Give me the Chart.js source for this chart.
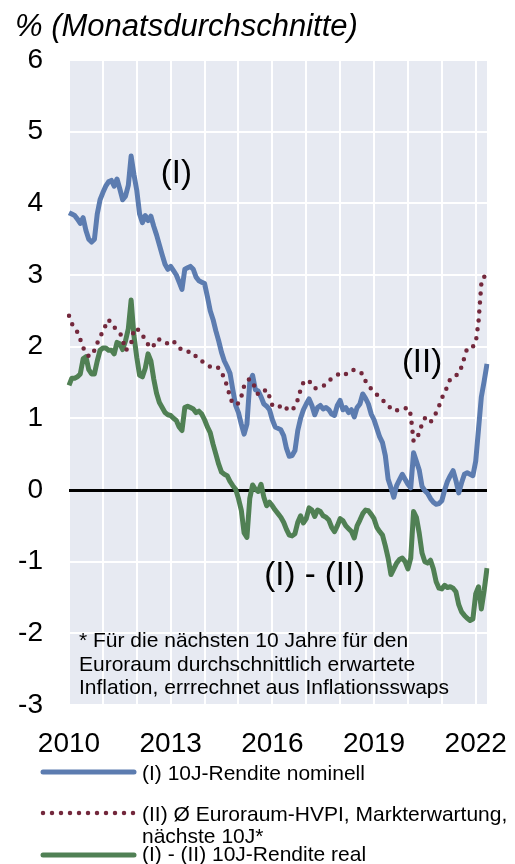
<!DOCTYPE html>
<html>
<head>
<meta charset="utf-8">
<script src="https://cdn.jsdelivr.net/npm/chart.js@4.4.0/dist/chart.umd.min.js"></script>
<style>
  body { margin: 0; background: #fff; }
  #wrap { position: relative; width: 515px; height: 864px; overflow: hidden; font-family: "Liberation Sans", Arial, sans-serif; }
  #chart { position: absolute; left: 0; top: 0; }
  .txt { position: absolute; white-space: nowrap; color: #000; }
  #title { left: 15px; top: 10px; font-size: 31px; line-height: 31px; font-style: italic; }
  #note { left: 79px; top: 628px; font-size: 21px; line-height: 23.5px; }
</style>
</head>
<body>
<div id="wrap">
  <canvas id="chart" width="515" height="864"></canvas>
  <div class="txt" id="title">% (Monatsdurchschnitte)</div>
  <div class="txt" id="note">* Für die nächsten 10 Jahre für den<br>Euroraum durchschnittlich erwartete<br>Inflation, errrechnet aus Inflationsswaps</div>
</div>
<script>
// monthly values, Jan 2010 .. May 2022
var firstYear = 2010;
var yearTicks = ['2010', '2013', '2016', '2019', '2022'];

var nominal = [
  3.87, 3.85, 3.83, 3.78, 3.72, 3.80, 3.62, 3.50, 3.46, 3.50, 3.85, 4.05,
  4.15, 4.24, 4.30, 4.32, 4.24, 4.34, 4.20, 4.05, 4.10, 4.25, 4.66, 4.40,
  4.18, 3.85, 3.73, 3.83, 3.76, 3.82, 3.68, 3.56, 3.42, 3.28, 3.15, 3.08,
  3.12, 3.06, 3.00, 2.90, 2.80, 3.08, 3.10, 3.12, 3.08, 2.97, 2.92, 2.90,
  2.88, 2.70, 2.50, 2.38, 2.22, 2.08, 1.92, 1.80, 1.72, 1.63, 1.40, 1.18,
  1.08, 0.92, 0.78, 0.92, 1.50, 1.60, 1.40, 1.38, 1.30, 1.20, 1.17, 1.12,
  0.98, 0.88, 0.86, 0.84, 0.76, 0.58, 0.47, 0.48, 0.55, 0.83, 1.00, 1.12,
  1.20, 1.27, 1.18, 1.05, 1.15, 1.18, 1.13, 1.15, 1.12, 1.06, 1.04, 1.18,
  1.25, 1.12, 1.15, 1.08, 1.12, 1.02, 1.15, 1.20, 1.34, 1.28, 1.20, 1.06,
  0.98, 0.86, 0.74, 0.66, 0.48, 0.15, 0.03, -0.10, 0.06, 0.14, 0.22, 0.15,
  0.08, 0.03, 0.52, 0.40, 0.28, 0.05, -0.01, -0.05, -0.12, -0.17, -0.20, -0.19,
  -0.15, 0.00, 0.12, 0.20, 0.27, 0.13, -0.04, 0.10, 0.22, 0.24, 0.22, 0.20,
  0.40, 0.85, 1.30, 1.52, 1.76
];

var expected = [
  2.43, 2.32, 2.27, 2.20, 2.10, 1.99, 1.90, 1.87, 1.87, 1.95, 2.05, 2.13,
  2.22, 2.30, 2.38, 2.32, 2.27, 2.24, 2.20, 2.10, 1.95, 1.98, 2.04, 2.25,
  2.25, 2.22, 2.15, 2.12, 2.03, 1.98, 2.02, 2.10, 2.10, 2.10, 2.07, 2.04,
  2.06, 2.08, 2.02, 1.98, 1.96, 1.93, 1.93, 1.93, 1.92, 1.86, 1.82, 1.80,
  1.77, 1.74, 1.72, 1.72, 1.73, 1.70, 1.65, 1.55, 1.45, 1.30, 1.20, 1.19,
  1.21, 1.30, 1.45, 1.52, 1.55, 1.50, 1.42, 1.33, 1.35, 1.38, 1.40, 1.30,
  1.18, 1.15, 1.16, 1.17, 1.19, 1.14, 1.10, 1.12, 1.16, 1.26, 1.40, 1.50,
  1.53, 1.53, 1.45, 1.42, 1.42, 1.43, 1.45, 1.48, 1.52, 1.56, 1.58, 1.60,
  1.64, 1.63, 1.62, 1.62, 1.66, 1.68, 1.66, 1.64, 1.62, 1.52, 1.46, 1.41,
  1.37, 1.33, 1.30, 1.26, 1.21, 1.17, 1.14, 1.10, 1.11, 1.13, 1.13, 1.14,
  1.15, 1.05, 0.68, 0.70, 0.80, 0.92, 1.00, 1.01, 0.95, 1.00, 1.08, 1.17,
  1.28, 1.36, 1.45, 1.55, 1.58, 1.60, 1.62, 1.72, 1.85, 1.98, 2.00, 2.00,
  2.05, 2.35, 2.88, 2.98, 2.86
];

var real = [
  1.46, 1.56, 1.56, 1.58, 1.62, 1.83, 1.86, 1.68, 1.62, 1.62, 1.80, 1.95,
  1.98, 1.98, 1.95, 1.95, 1.90, 2.06, 2.04, 1.96, 2.08, 2.25, 2.65, 2.15,
  1.85, 1.60, 1.58, 1.70, 1.90, 1.80, 1.55, 1.35, 1.22, 1.15, 1.08, 1.05,
  1.04, 1.00, 0.97, 0.88, 0.83, 1.15, 1.17, 1.15, 1.13, 1.08, 1.10, 1.06,
  0.98, 0.88, 0.80, 0.64, 0.50, 0.36, 0.25, 0.22, 0.20, 0.12, 0.06, 0.01,
  -0.12, -0.28, -0.60, -0.66, -0.12, 0.07, 0.01, -0.02, 0.08, -0.10, -0.22, -0.17,
  -0.22, -0.28, -0.33, -0.38, -0.45, -0.55, -0.63, -0.64, -0.61, -0.45, -0.36, -0.46,
  -0.40, -0.25, -0.28, -0.37, -0.28, -0.30, -0.36, -0.38, -0.42, -0.52, -0.58, -0.50,
  -0.40, -0.43, -0.50, -0.54, -0.58, -0.67, -0.50, -0.42, -0.33, -0.28, -0.29, -0.34,
  -0.40, -0.52, -0.58, -0.63, -0.78, -0.95, -1.18, -1.10, -1.02, -0.97, -0.95, -1.00,
  -1.10, -0.95, -0.30, -0.38, -0.60, -0.88, -1.00, -1.02, -0.98, -1.10, -1.28, -1.37,
  -1.38, -1.33, -1.36, -1.35, -1.37, -1.42, -1.60, -1.70, -1.75, -1.79, -1.82, -1.80,
  -1.45, -1.35, -1.66, -1.40, -1.09
];

var legendLabels = [
  ['(I) 10J-Rendite nominell'],
  ['(II) Ø Euroraum-HVPI, Markterwartung,', 'nächste 10J*'],
  ['(I) - (II) 10J-Rendite real']
];

var annoText = ['(I)', '(II)', '(I) - (II)'];
var annoMonth = ['2013-03', '2020-06', '2017-04'];
var annoValue = [4.41, 1.77, -1.2];

var months = [];
for (var i = 0; i < nominal.length; i++) {
  var m = i % 12 + 1;
  months.push((firstYear + Math.floor(i / 12)) + '-' + (m < 10 ? '0' + m : m));
}

var blue = 'rgb(92,124,176)';
var maroon = 'rgb(115,40,60)';
var green = 'rgb(80,128,84)';
var font = '"Liberation Sans", Arial, sans-serif';

var plotBg = {
  id: 'plotBg',
  beforeDraw: function (chart) {
    var a = chart.chartArea, c = chart.ctx;
    c.save();
    c.fillStyle = 'rgb(231,234,242)';
    c.fillRect(a.left, a.top, a.right - a.left, a.bottom - a.top);
    c.restore();
  }
};

var annotations = {
  id: 'annotations',
  afterDatasetsDraw: function (chart) {
    var c = chart.ctx, xs = chart.scales.x, ys = chart.scales.y;
    c.save();
    c.fillStyle = '#000';
    c.font = '33px ' + font;
    c.textAlign = 'center';
    c.textBaseline = 'middle';
    for (var k = 0; k < annoText.length; k++) {
      c.fillText(annoText[k], xs.getPixelForValue(months.indexOf(annoMonth[k])), ys.getPixelForValue(annoValue[k]));
    }
    c.restore();
  }
};

var legendBox = {
  id: 'legendBox',
  afterDraw: function (chart) {
    var c = chart.ctx;
    var rows = [772, 813, 855];
    var textRows = [[774], [815, 837], [855]];
    c.save();
    chart.data.datasets.forEach(function (ds, k) {
      c.beginPath();
      c.strokeStyle = ds.borderColor;
      c.lineWidth = ds.borderWidth;
      c.lineCap = 'round';
      c.setLineDash(ds.borderDash || []);
      c.moveTo(43, rows[k]);
      c.lineTo(134, rows[k]);
      c.stroke();
      c.setLineDash([]);
      c.fillStyle = '#000';
      c.font = '21px ' + font;
      c.textAlign = 'left';
      c.textBaseline = 'middle';
      legendLabels[k].forEach(function (line, j) {
        c.fillText(line, 142, textRows[k][j]);
      });
    });
    c.restore();
  }
};

new Chart(document.getElementById('chart'), {
  type: 'line',
  data: {
    labels: months,
    datasets: [
      { label: legendLabels[0].join(' '), data: nominal, borderColor: blue, borderWidth: 5, order: 1 },
      { label: legendLabels[1].join(' '), data: expected, borderColor: maroon, borderWidth: 4.5,
        borderDash: [0, 9], borderCapStyle: 'round', order: 0 },
      { label: legendLabels[2].join(' '), data: real, borderColor: green, borderWidth: 5, order: 2 }
    ]
  },
  options: {
    responsive: false,
    animation: false,
    layout: { padding: { top: 60, right: 28, left: 0, bottom: 0 } },
    elements: {
      point: { radius: 0 },
      line: { tension: 0, borderJoinStyle: 'round', fill: false }
    },
    plugins: { legend: { display: false }, tooltip: { enabled: false } },
    scales: {
      x: {
        afterFit: function (s) { s.height = 159; },
        border: { display: false },
        grid: {
          drawTicks: false,
          lineWidth: 2,
          color: function (ctx) { return months[ctx.index] && months[ctx.index].slice(5) === '01' ? '#fff' : 'rgba(0,0,0,0)'; }
        },
        ticks: {
          autoSkip: false, maxRotation: 0, padding: 22, color: '#000',
          font: { family: font, size: 28 },
          callback: function (v, i) {
            var lb = months[i];
            return lb.slice(5) === '01' && yearTicks.indexOf(lb.slice(0, 4)) >= 0 ? lb.slice(0, 4) : '';
          }
        }
      },
      y: {
        min: -3, max: 6,
        afterFit: function (s) { s.width = 69; },
        border: { display: false },
        grid: {
          drawTicks: false,
          color: function (ctx) { return ctx.tick.value === 0 ? '#000' : '#fff'; },
          lineWidth: function (ctx) { return ctx.tick.value === 0 ? 3 : 2; }
        },
        ticks: { stepSize: 1, padding: 26, color: '#000', font: { family: font, size: 28 } }
      }
    }
  },
  plugins: [plotBg, annotations, legendBox]
});
</script>
</body>
</html>
